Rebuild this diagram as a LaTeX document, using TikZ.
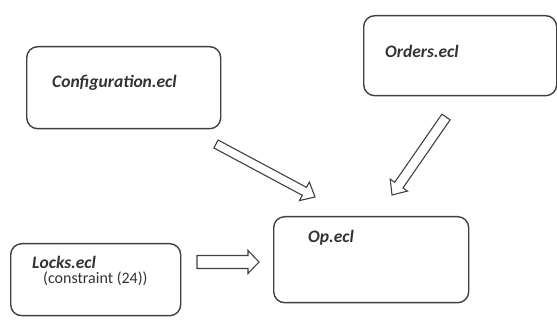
\documentclass[tikz,border=0pt]{standalone}
\usepackage{fontspec}
\setmainfont{Carlito}
\usetikzlibrary{calc}
\begin{document}
\begin{tikzpicture}[x=1pt,y=-1pt,
  box/.style={draw=black!75,line width=1.4pt,rounded corners=11pt,fill=white},
  lbl/.style={font=\bfseries\itshape\fontsize{17.5}{20}\selectfont,text=black!80,inner sep=0pt,anchor=base west},
  sub/.style={font=\fontsize{16}{18}\selectfont,text=black!80,inner sep=0pt,anchor=base west},
  hollow/.style n args={3}{draw=black!75,line width=1.1pt,line join=miter,
    to path={let \p1=(\tikztostart), \p2=(\tikztotarget),
      \n1={atan2(\y2-\y1,\x2-\x1)} in
      ($(\p1)+(\n1+90:#1)$) --
      ($(\p2)+(\n1+180:#3)+(\n1+90:#1)$) --
      ($(\p2)+(\n1+180:#3)+(\n1+90:#2)$) --
      (\p2) --
      ($(\p2)+(\n1+180:#3)+(\n1-90:#2)$) --
      ($(\p2)+(\n1+180:#3)+(\n1-90:#1)$) --
      ($(\p1)+(\n1-90:#1)$) -- cycle}}]
\useasboundingbox (0,0) rectangle (557,320);
\node[box,minimum width=194pt,minimum height=82pt,anchor=north west] (conf) at (26,46) {};
\node[box,minimum width=193pt,minimum height=80pt,anchor=north west] (ord) at (363,15) {};
\node[box,minimum width=170pt,minimum height=72pt,anchor=north west] (lock) at (10,243) {};
\node[box,minimum width=195pt,minimum height=86pt,anchor=north west] (op) at (273,216) {};
\node[lbl] (conft) at (52,88) {Configuration.ecl};
\node[lbl] (ordt) at (385,58) {Orders.ecl};
\node[lbl] (lockt) at (32,269) {Locks.ecl};
\node[sub] (lockc) at (43,284) {(constraint (24))};
\node[lbl] (opt) at (308,243) {Op.ecl};
\coordinate (a1) at (216,144);
\coordinate (a2) at (315,197);
\coordinate (b1) at (446,117);
\coordinate (b2) at (392,195);
\coordinate (c1) at (197,262);
\coordinate (c2) at (259,262);
\draw[hollow={4.5pt}{10.5pt}{12pt}] (a1) to (a2);
\draw[hollow={5pt}{10.5pt}{12pt}] (b1) to (b2);
\draw[hollow={6.5pt}{11.5pt}{11pt}] (c1) to (c2);
\end{tikzpicture}
\end{document}
